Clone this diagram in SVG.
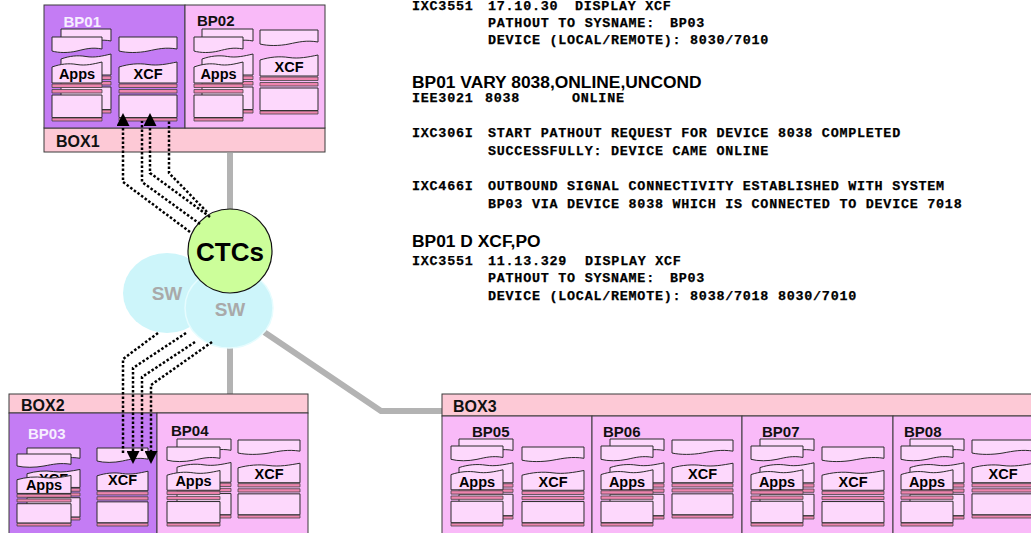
<svg xmlns="http://www.w3.org/2000/svg" xmlns:xlink="http://www.w3.org/1999/xlink" width="1031" height="533" viewBox="0 0 1031 533">
  <style>
    .lparP{fill:#c47cf4;stroke:#3a3a3a;stroke-width:1}
    .lparK{fill:#f9baf8;stroke:#3a3a3a;stroke-width:1}
    .bar{fill:#fdc9d6;stroke:#3a3a3a;stroke-width:1}
    .card{fill:#fdd8fc;stroke:#2a2a2a;stroke-width:1;vector-effect:non-scaling-stroke}
    .stripe{fill:#ee84ae;stroke:#444;stroke-width:0.8;vector-effect:non-scaling-stroke}
    .boxname{font-family:"Liberation Sans",Arial,sans-serif;font-weight:bold;font-size:16px;fill:#111}
    .bpw{font-family:"Liberation Sans",Arial,sans-serif;font-weight:bold;font-size:15px;fill:#f6eeff}
    .bpk{font-family:"Liberation Sans",Arial,sans-serif;font-weight:bold;font-size:15px;fill:#111}
    .lbl{font-family:"Liberation Sans",Arial,sans-serif;font-weight:bold;font-size:14.5px;fill:#000;text-anchor:middle}
    .link{fill:none;stroke:#b3b3b3;stroke-width:6}
    .dot{fill:none;stroke:#000;stroke-width:2.5;stroke-dasharray:2.5 2}
    .mono{font-family:"Liberation Mono","Courier New",monospace;font-weight:bold;font-size:13.4px;letter-spacing:0.75px;fill:#000;stroke:#000;stroke-width:0.25}
    .head{font-family:"Liberation Sans",Arial,sans-serif;font-weight:bold;font-size:17.4px;fill:#000}
  </style>
  <defs>
    <!-- one layered software stack, 60 wide x 84 tall -->
    <g id="stk">
      <path class="card" d="M0,0 H60 V12 C48,10 40,12 30,14 C20,16 8,16 0,14 Z"/>
      <path class="card" d="M0,30 C10,27 20,26 30,27.5 C40,29 50,27 60,25 V46 H0 Z"/>
      <rect class="stripe" x="0" y="47" width="60" height="3.5"/>
      <rect class="stripe" x="0" y="52.5" width="60" height="3.5"/>
      <rect class="card" x="0" y="58" width="60" height="22.5"/>
      <rect class="stripe" x="0" y="81" width="60" height="3"/>
    </g>
    <marker id="ah" viewBox="0 0 10 10" refX="0" refY="5" markerWidth="13" markerHeight="13" markerUnits="userSpaceOnUse" orient="auto">
      <path d="M0,0 L10,5 L0,10 Z" fill="#000"/>
    </marker>
  </defs>

  <!-- physical links -->
  <g id="links">
    <path class="link" d="M230,153 V210"/>
    <path class="link" d="M230,346 V394"/>
    <path class="link" d="M264,332 L381,411 H442"/>
  </g>

  <!-- BOX1 -->
  <g id="box1">
    <rect class="bar" x="44" y="128" width="281" height="24"/>
    <text class="boxname" x="56" y="147">BOX1</text>
  </g>
  <g id="bp01">
    <rect class="lparP" x="44" y="5" width="141" height="123"/>
    <text class="bpw" x="63.5" y="26.5">BP01</text>
    <use href="#stk" transform="translate(61,29) scale(0.8333,1)"/>
    <use href="#stk" transform="translate(52,37) scale(0.8333,1)"/>
    <text class="lbl" x="77" y="79">Apps</text>
    <use href="#stk" transform="translate(119,37) scale(0.9667,1)"/>
    <text class="lbl" x="148" y="79">XCF</text>
  </g>
  <g id="bp02">
    <rect class="lparK" x="185" y="5" width="140" height="123"/>
    <text class="bpk" x="197" y="26">BP02</text>
    <use href="#stk" transform="translate(202,29) scale(0.85,1)"/>
    <use href="#stk" transform="translate(194,37) scale(0.8167,1)"/>
    <text class="lbl" x="218.5" y="79">Apps</text>
    <use href="#stk" transform="translate(260,30) scale(0.9667,1)"/>
    <text class="lbl" x="289" y="72">XCF</text>
  </g>

  <!-- BOX2 -->
  <g id="box2">
    <rect class="bar" x="9" y="394" width="299" height="19"/>
    <text class="boxname" x="21" y="410.5">BOX2</text>
  </g>
  <g id="bp03">
    <rect class="lparP" x="9" y="413" width="148" height="130"/>
    <text class="bpw" x="28" y="438.5">BP03</text>
    <use href="#stk" transform="translate(27,448) scale(0.8833,0.857)"/>
    <text class="lbl" x="53.5" y="484">XCF</text>
    <use href="#stk" transform="translate(17,454) scale(0.9,0.857)"/>
    <text class="lbl" x="44" y="490">Apps</text>
    <use href="#stk" transform="translate(97,448) scale(0.85,0.9286)"/>
    <text class="lbl" x="122.5" y="485">XCF</text>
  </g>
  <g id="bp04">
    <rect class="lparK" x="157" y="413" width="151" height="130"/>
    <text class="bpk" x="171" y="435.5">BP04</text>
    <use href="#stk" transform="translate(177,439) scale(0.9,0.9405)"/>
    <use href="#stk" transform="translate(167,447) scale(0.8833,0.9405)"/>
    <text class="lbl" x="193.5" y="486">Apps</text>
    <use href="#stk" transform="translate(238,440) scale(1.0333,0.9286)"/>
    <text class="lbl" x="269" y="479">XCF</text>
  </g>

  <!-- BOX3 -->
  <g id="box3">
    <rect class="bar" x="442" y="394" width="600" height="22"/>
    <text class="boxname" x="453" y="411.5">BOX3</text>
  </g>
  <g id="bp05">
    <rect class="lparK" x="442" y="416" width="150" height="130"/>
    <text class="bpk" x="472" y="436.5">BP05</text>
    <use href="#stk" transform="translate(459,439) scale(0.9,0.9524)"/>
    <use href="#stk" transform="translate(451,446) scale(0.8667,0.9524)"/>
    <text class="lbl" x="477" y="486.5">Apps</text>
    <use href="#stk" transform="translate(522,447) scale(1.0333,0.9405)"/>
    <text class="lbl" x="553" y="487">XCF</text>
  </g>
  <g id="bp06">
    <rect class="lparK" x="592" y="416" width="150" height="130"/>
    <text class="bpk" x="603" y="436.5">BP06</text>
    <use href="#stk" transform="translate(610,439) scale(0.9,0.9524)"/>
    <use href="#stk" transform="translate(601,446) scale(0.8667,0.9524)"/>
    <text class="lbl" x="627" y="486.5">Apps</text>
    <use href="#stk" transform="translate(672,440) scale(1.0167,0.9286)"/>
    <text class="lbl" x="702.5" y="479">XCF</text>
  </g>
  <g id="bp07">
    <rect class="lparK" x="742" y="416" width="151" height="130"/>
    <text class="bpk" x="762" y="436.5">BP07</text>
    <use href="#stk" transform="translate(760,439) scale(0.9,0.9524)"/>
    <use href="#stk" transform="translate(751,446) scale(0.8667,0.9524)"/>
    <text class="lbl" x="777" y="486.5">Apps</text>
    <use href="#stk" transform="translate(822,447) scale(1.0333,0.9405)"/>
    <text class="lbl" x="853" y="487">XCF</text>
  </g>
  <g id="bp08">
    <rect class="lparK" x="893" y="416" width="150" height="130"/>
    <text class="bpk" x="904" y="436.5">BP08</text>
    <use href="#stk" transform="translate(910,439) scale(0.9,0.9524)"/>
    <use href="#stk" transform="translate(901,446) scale(0.8667,0.9524)"/>
    <text class="lbl" x="927" y="486.5">Apps</text>
    <use href="#stk" transform="translate(972,440) scale(1.0333,0.9286)"/>
    <text class="lbl" x="1003" y="479">XCF</text>
  </g>

  <!-- switches and CTC hub -->
  <g id="sw1">
    <ellipse cx="167" cy="293" rx="44" ry="40" fill="#cdf5fa"/>
    <text x="167" y="300" font-family="Liberation Sans, Arial, sans-serif" font-weight="bold" font-size="19" fill="#a9a9a9" text-anchor="middle">SW</text>
  </g>
  <g id="sw2">
    <ellipse cx="229" cy="308" rx="44" ry="40" fill="#cdf5fa" stroke="#e6fcfe" stroke-width="1.5"/>
    <text x="230" y="316" font-family="Liberation Sans, Arial, sans-serif" font-weight="bold" font-size="19" fill="#a9a9a9" text-anchor="middle">SW</text>
  </g>
  <g id="ctcs">
    <circle cx="230" cy="251" r="42" fill="#ccfe9a" stroke="#111" stroke-width="1.2"/>
    <text x="230" y="261" font-family="Liberation Sans, Arial, sans-serif" font-weight="bold" font-size="26" fill="#000" text-anchor="middle">CTCs</text>
  </g>

  <!-- XCF signalling paths -->
  <g id="paths">
    <path class="dot" d="M190,232 L123,182 V126" marker-end="url(#ah)"/>
    <path class="dot" d="M200,224 L142,182 V121"/>
    <path class="dot" d="M210,217 L150,173 V126" marker-end="url(#ah)"/>
    <path class="dot" d="M207,212 L169,173 V121"/>
    <path class="dot" d="M158,333 L123,359 V453"/>
    <path class="dot" d="M186,333 L133,368 V451" marker-end="url(#ah)"/>
    <path class="dot" d="M195,342 L142,377 V453"/>
    <path class="dot" d="M212,342 L151,385 V451" marker-end="url(#ah)"/>
  </g>

  <!-- console log -->
  <g id="console">
    <text class="mono" y="10"><tspan x="412">IXC3551</tspan><tspan x="488">17.10.30</tspan><tspan x="575">DISPLAY XCF</tspan></text>
    <text class="mono" y="27"><tspan x="488">PATHOUT TO SYSNAME:</tspan><tspan x="670">BP03</tspan></text>
    <text class="mono" x="488" y="44">DEVICE (LOCAL/REMOTE): 8030/7010</text>
    <text class="head" x="412" y="87.5">BP01 VARY 8038,ONLINE,UNCOND</text>
    <text class="mono" y="101.5"><tspan x="412">IEE3021</tspan><tspan x="485">8038</tspan><tspan x="572">ONLINE</tspan></text>
    <text class="mono" y="137"><tspan x="412">IXC306I</tspan><tspan x="488">START PATHOUT REQUEST FOR DEVICE 8038 COMPLETED</tspan></text>
    <text class="mono" x="488" y="155">SUCCESSFULLY: DEVICE CAME ONLINE</text>
    <text class="mono" y="190"><tspan x="412">IXC466I</tspan><tspan x="488">OUTBOUND SIGNAL CONNECTIVITY ESTABLISHED WITH SYSTEM</tspan></text>
    <text class="mono" x="488" y="207.5">BP03 VIA DEVICE 8038 WHICH IS CONNECTED TO DEVICE 7018</text>
    <text class="head" x="412" y="246.5">BP01 D XCF,PO</text>
    <text class="mono" y="264.5"><tspan x="412">IXC3551</tspan><tspan x="488">11.13.329</tspan><tspan x="585">DISPLAY XCF</tspan></text>
    <text class="mono" y="282"><tspan x="488">PATHOUT TO SYSNAME:</tspan><tspan x="670">BP03</tspan></text>
    <text class="mono" x="488" y="299.5">DEVICE (LOCAL/REMOTE): 8038/7018 8030/7010</text>
  </g>
</svg>
